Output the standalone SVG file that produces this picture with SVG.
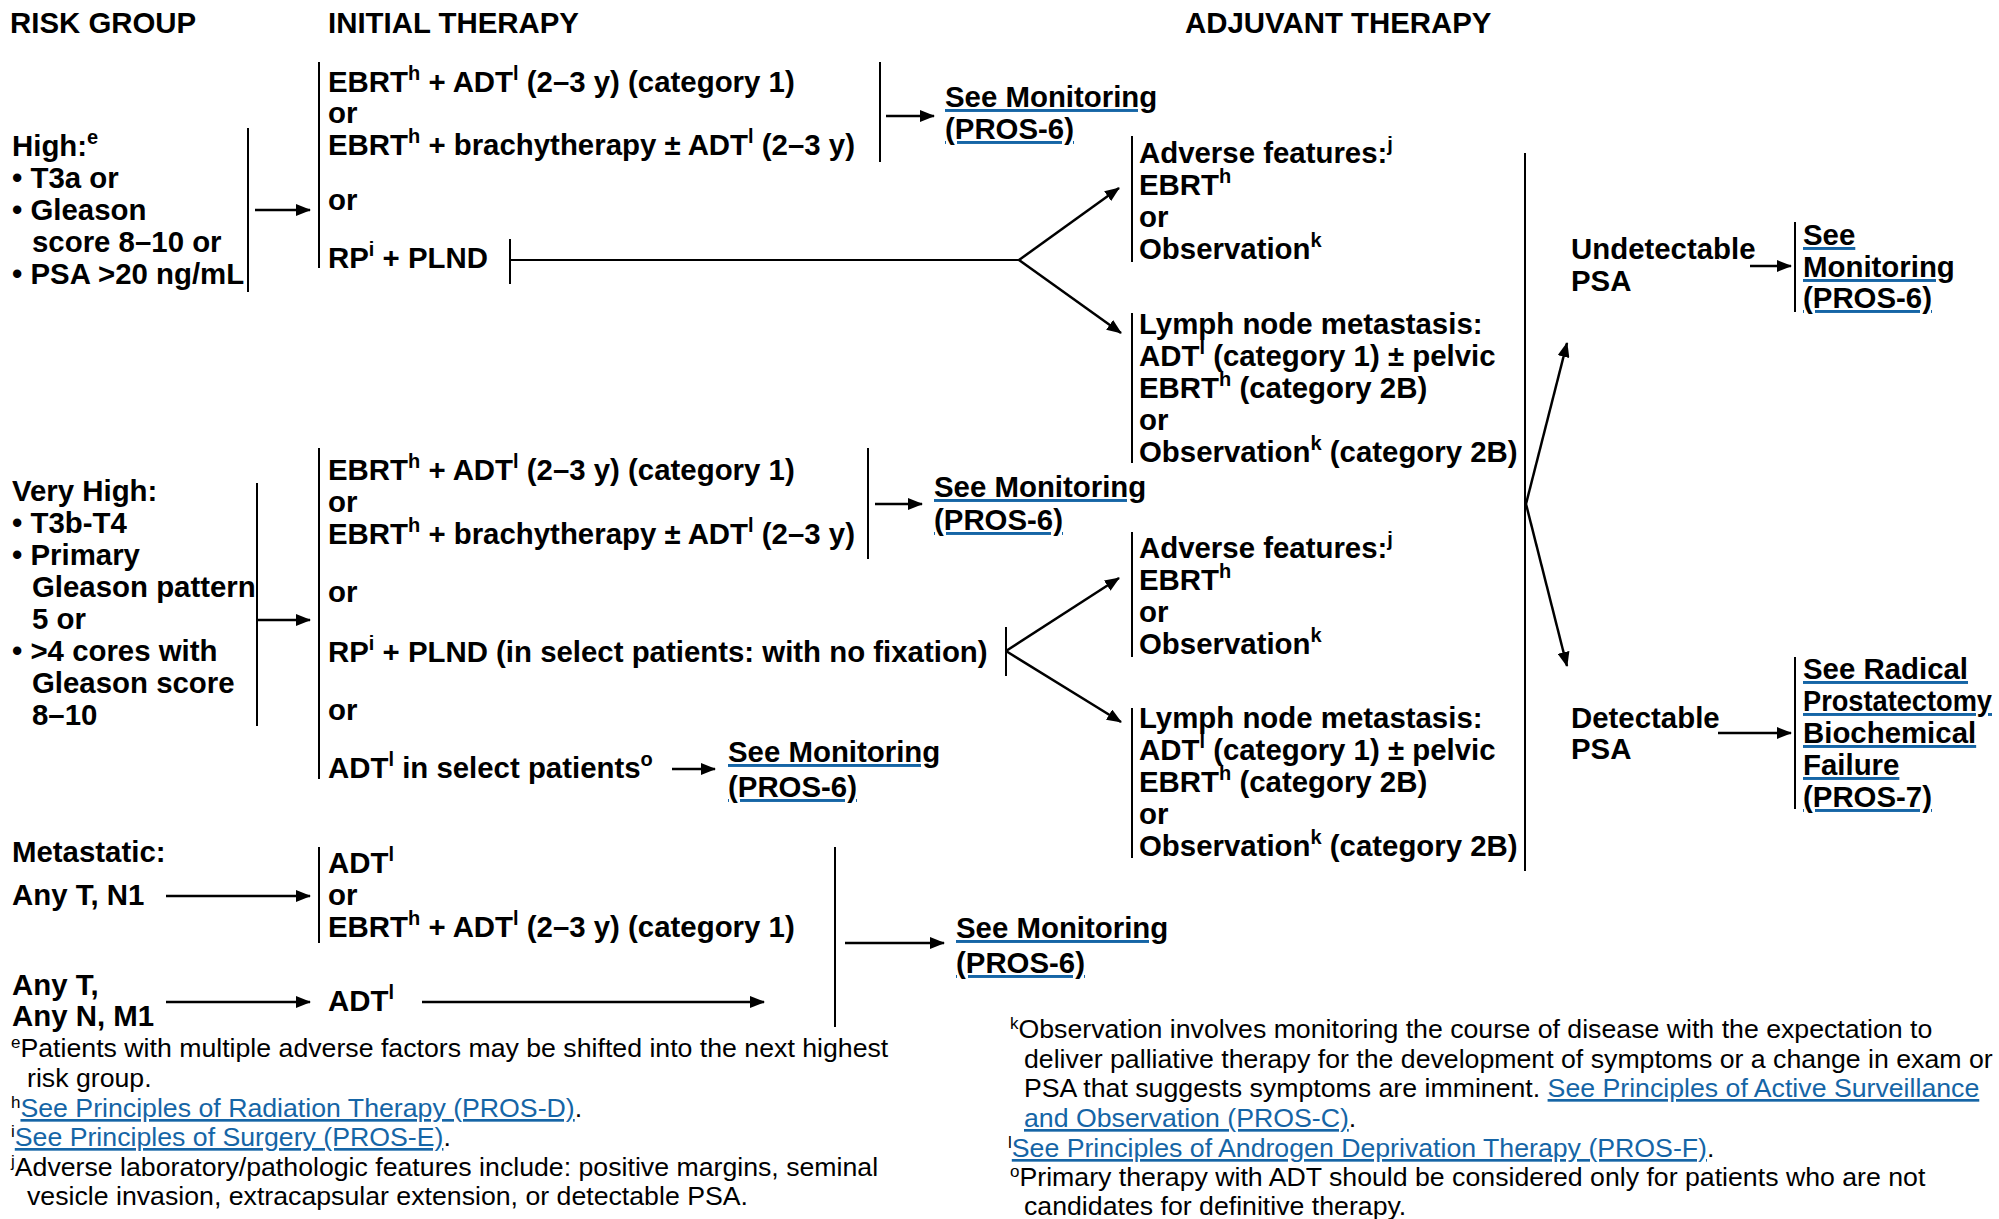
<svg xmlns="http://www.w3.org/2000/svg" width="1999" height="1219" viewBox="0 0 1999 1219">
  <style>
    text { font-family: "Liberation Sans", Arial, Helvetica, sans-serif; fill: #000; }
    .b { font-weight: bold; font-size: 29.4px; }
    .fn { font-weight: normal; font-size: 26.7px; }
    .sp { font-size: 20px; }
    .fsp { font-size: 17px; }
    .lk { fill: #1565a6; text-decoration: underline; }
    .ln { stroke: #000; stroke-width: 2; fill: none; }
    .ar { stroke: #000; stroke-width: 2.5; fill: none; marker-end: url(#ah); }
  </style>
  <defs>
    <marker id="ah" markerUnits="userSpaceOnUse" markerWidth="15" markerHeight="12" refX="14" refY="6" orient="auto">
      <path d="M0,0 L15,6 L0,12 z" fill="#000"/>
    </marker>
  </defs>
  <rect width="1999" height="1219" fill="#fff"/>

  <!-- column headings -->
  <g id="headings" class="b">
    <text x="10" y="33">RISK GROUP</text>
    <text x="328" y="33">INITIAL THERAPY</text>
    <text x="1185" y="33">ADJUVANT THERAPY</text>
  </g>

  <!-- High risk group -->
  <g id="risk-high" class="b">
    <text x="12" y="156">High:<tspan class="sp" dy="-12">e</tspan></text>
    <text x="12" y="188">• T3a or</text>
    <text x="12" y="220">• Gleason</text>
    <text x="32" y="252">score 8–10 or</text>
    <text x="12" y="284">• PSA &gt;20 ng/mL</text>
    <line class="ln" x1="248" y1="128" x2="248" y2="292"/>
  </g>

  <g id="initial-high" class="b">
    <line class="ln" x1="319" y1="62" x2="319" y2="268"/>
    <text x="328" y="92">EBRT<tspan class="sp" dy="-12">h</tspan><tspan dy="12"> + ADT</tspan><tspan class="sp" dy="-12">l</tspan><tspan dy="12"> (2–3 y) (category 1)</tspan></text>
    <text x="328" y="123">or</text>
    <text x="328" y="155">EBRT<tspan class="sp" dy="-12">h</tspan><tspan dy="12"> + brachytherapy ± ADT</tspan><tspan class="sp" dy="-12">l</tspan><tspan dy="12"> (2–3 y)</tspan></text>
    <line class="ln" x1="880" y1="62" x2="880" y2="162"/>
    <text x="328" y="210">or</text>
    <text x="328" y="268">RP<tspan class="sp" dy="-12">i</tspan><tspan dy="12"> + PLND</tspan></text>
    <line class="ln" x1="510" y1="239" x2="510" y2="284"/>
  </g>

  <g id="monitor-high" class="b lk">
    <text x="945" y="107">See Monitoring</text>
    <text x="945" y="139">(PROS-6)</text>
  </g>

  <g id="adverse-high" class="b">
    <line class="ln" x1="1132" y1="136" x2="1132" y2="262"/>
    <text x="1139" y="163">Adverse features:<tspan class="sp" dy="-12">j</tspan></text>
    <text x="1139" y="195">EBRT<tspan class="sp" dy="-12">h</tspan></text>
    <text x="1139" y="227">or</text>
    <text x="1139" y="259">Observation<tspan class="sp" dy="-12">k</tspan></text>
  </g>

  <g id="lymph-high" class="b">
    <line class="ln" x1="1132" y1="313" x2="1132" y2="463"/>
    <text x="1139" y="334">Lymph node metastasis:</text>
    <text x="1139" y="366">ADT<tspan class="sp" dy="-12">l</tspan><tspan dy="12"> (category 1) ± pelvic</tspan></text>
    <text x="1139" y="398">EBRT<tspan class="sp" dy="-12">h</tspan><tspan dy="12"> (category 2B)</tspan></text>
    <text x="1139" y="430">or</text>
    <text x="1139" y="462">Observation<tspan class="sp" dy="-12">k</tspan><tspan dy="12"> (category 2B)</tspan></text>
  </g>

  <!-- Very high risk group -->
  <g id="risk-very-high" class="b">
    <text x="12" y="501">Very High:</text>
    <text x="12" y="533">• T3b-T4</text>
    <text x="12" y="565">• Primary</text>
    <text x="32" y="597">Gleason pattern</text>
    <text x="32" y="629">5 or</text>
    <text x="12" y="661">• &gt;4 cores with</text>
    <text x="32" y="693">Gleason score</text>
    <text x="32" y="725">8–10</text>
    <line class="ln" x1="257" y1="483" x2="257" y2="726"/>
  </g>

  <g id="initial-very-high" class="b">
    <line class="ln" x1="319" y1="448" x2="319" y2="779"/>
    <text x="328" y="480">EBRT<tspan class="sp" dy="-12">h</tspan><tspan dy="12"> + ADT</tspan><tspan class="sp" dy="-12">l</tspan><tspan dy="12"> (2–3 y) (category 1)</tspan></text>
    <text x="328" y="512">or</text>
    <text x="328" y="544">EBRT<tspan class="sp" dy="-12">h</tspan><tspan dy="12"> + brachytherapy ± ADT</tspan><tspan class="sp" dy="-12">l</tspan><tspan dy="12"> (2–3 y)</tspan></text>
    <line class="ln" x1="868" y1="448" x2="868" y2="559"/>
    <text x="328" y="602">or</text>
    <text x="328" y="662">RP<tspan class="sp" dy="-12">i</tspan><tspan dy="12"> + PLND (in select patients: with no fixation)</tspan></text>
    <line class="ln" x1="1006" y1="627" x2="1006" y2="676"/>
    <text x="328" y="720">or</text>
    <text x="328" y="778">ADT<tspan class="sp" dy="-12">l</tspan><tspan dy="12"> in select patients</tspan><tspan class="sp" dy="-12">o</tspan></text>
  </g>

  <g id="monitor-very-high" class="b lk">
    <text x="934" y="497">See Monitoring</text>
    <text x="934" y="530">(PROS-6)</text>
  </g>

  <g id="monitor-adt-select" class="b lk">
    <text x="728" y="762">See Monitoring</text>
    <text x="728" y="797">(PROS-6)</text>
  </g>

  <g id="adverse-very-high" class="b">
    <line class="ln" x1="1132" y1="532" x2="1132" y2="657"/>
    <text x="1139" y="558">Adverse features:<tspan class="sp" dy="-12">j</tspan></text>
    <text x="1139" y="590">EBRT<tspan class="sp" dy="-12">h</tspan></text>
    <text x="1139" y="622">or</text>
    <text x="1139" y="654">Observation<tspan class="sp" dy="-12">k</tspan></text>
  </g>

  <g id="lymph-very-high" class="b">
    <line class="ln" x1="1132" y1="708" x2="1132" y2="858"/>
    <text x="1139" y="728">Lymph node metastasis:</text>
    <text x="1139" y="760">ADT<tspan class="sp" dy="-12">l</tspan><tspan dy="12"> (category 1) ± pelvic</tspan></text>
    <text x="1139" y="792">EBRT<tspan class="sp" dy="-12">h</tspan><tspan dy="12"> (category 2B)</tspan></text>
    <text x="1139" y="824">or</text>
    <text x="1139" y="856">Observation<tspan class="sp" dy="-12">k</tspan><tspan dy="12"> (category 2B)</tspan></text>
  </g>

  <!-- adjuvant outcome -->
  <g id="adjuvant-bar">
    <line class="ln" x1="1525" y1="153" x2="1525" y2="871"/>
  </g>

  <g id="undetectable-psa" class="b">
    <text x="1571" y="259">Undetectable</text>
    <text x="1571" y="291">PSA</text>
  </g>

  <g id="monitor-undetectable" class="b">
    <line class="ln" x1="1795" y1="222" x2="1795" y2="312"/>
    <g class="lk">
      <text x="1803" y="245">See</text>
      <text x="1803" y="277">Monitoring</text>
      <text x="1803" y="308">(PROS-6)</text>
    </g>
  </g>

  <g id="detectable-psa" class="b">
    <text x="1571" y="728">Detectable</text>
    <text x="1571" y="759">PSA</text>
  </g>

  <g id="biochemical-failure" class="b">
    <line class="ln" x1="1795" y1="657" x2="1795" y2="809"/>
    <g class="lk">
      <text x="1803" y="679">See Radical</text>
      <text x="1803" y="711" textLength="189" lengthAdjust="spacingAndGlyphs">Prostatectomy</text>
      <text x="1803" y="743">Biochemical</text>
      <text x="1803" y="775">Failure</text>
      <text x="1803" y="807">(PROS-7)</text>
    </g>
  </g>

  <!-- Metastatic group -->
  <g id="risk-metastatic" class="b">
    <text x="12" y="862">Metastatic:</text>
    <text x="12" y="905">Any T, N1</text>
    <text x="12" y="995">Any T,</text>
    <text x="12" y="1026">Any N, M1</text>
  </g>

  <g id="initial-metastatic" class="b">
    <line class="ln" x1="319" y1="847" x2="319" y2="943"/>
    <text x="328" y="873">ADT<tspan class="sp" dy="-12">l</tspan></text>
    <text x="328" y="905">or</text>
    <text x="328" y="937">EBRT<tspan class="sp" dy="-12">h</tspan><tspan dy="12"> + ADT</tspan><tspan class="sp" dy="-12">l</tspan><tspan dy="12"> (2–3 y) (category 1)</tspan></text>
    <text x="328" y="1011">ADT<tspan class="sp" dy="-12">l</tspan></text>
    <line class="ln" x1="835" y1="847" x2="835" y2="1027"/>
  </g>

  <g id="monitor-metastatic" class="b lk">
    <text x="956" y="938">See Monitoring</text>
    <text x="956" y="973">(PROS-6)</text>
  </g>

  <!-- connectors -->
  <g id="connectors">
    <line class="ar" x1="255" y1="210" x2="310" y2="210"/>
    <line class="ar" x1="886" y1="116" x2="934" y2="116"/>
    <polyline class="ln" points="510,260 1019,260"/>
    <line class="ar" x1="1019" y1="260" x2="1119" y2="188"/>
    <line class="ar" x1="1019" y1="260" x2="1121" y2="333"/>

    <line class="ar" x1="257" y1="620" x2="310" y2="620"/>
    <line class="ar" x1="875" y1="504" x2="922" y2="504"/>
    <line class="ar" x1="1006" y1="651" x2="1119" y2="578"/>
    <line class="ar" x1="1006" y1="651" x2="1121" y2="722"/>
    <line class="ar" x1="672" y1="769" x2="715" y2="769"/>

    <line class="ar" x1="1526" y1="504" x2="1567" y2="343"/>
    <line class="ar" x1="1526" y1="504" x2="1567" y2="666"/>
    <line class="ar" x1="1750" y1="266" x2="1791" y2="266"/>
    <line class="ar" x1="1718" y1="733" x2="1791" y2="733"/>

    <line class="ar" x1="166" y1="896" x2="310" y2="896"/>
    <line class="ar" x1="166" y1="1002" x2="310" y2="1002"/>
    <line class="ar" x1="422" y1="1002" x2="764" y2="1002"/>
    <line class="ar" x1="845" y1="943" x2="944" y2="943"/>
  </g>

  <!-- footnotes -->
  <g id="footnotes-left" class="fn">
    <text x="11" y="1057"><tspan class="fsp" dy="-9">e</tspan><tspan dy="9">Patients with multiple adverse factors may be shifted into the next highest</tspan></text>
    <text x="27" y="1087">risk group.</text>
    <text x="11" y="1117"><tspan class="fsp" dy="-9">h</tspan><tspan dy="9" class="lk">See Principles of Radiation Therapy (PROS-D)</tspan>.</text>
    <text x="11" y="1146"><tspan class="fsp" dy="-9">i</tspan><tspan dy="9" class="lk">See Principles of Surgery (PROS-E)</tspan>.</text>
    <text x="11" y="1176"><tspan class="fsp" dy="-9">j</tspan><tspan dy="9">Adverse laboratory/pathologic features include: positive margins, seminal</tspan></text>
    <text x="27" y="1205">vesicle invasion, extracapsular extension, or detectable PSA.</text>
  </g>

  <g id="footnotes-right" class="fn">
    <text x="1010" y="1038"><tspan class="fsp" dy="-9">k</tspan><tspan dy="9">Observation involves monitoring the course of disease with the expectation to</tspan></text>
    <text x="1024" y="1068">deliver palliative therapy for the development of symptoms or a change in exam or</text>
    <text x="1024" y="1097">PSA that suggests symptoms are imminent. <tspan class="lk">See Principles of Active Surveillance</tspan></text>
    <text x="1024" y="1127"><tspan class="lk">and Observation (PROS-C)</tspan>.</text>
    <text x="1008" y="1157"><tspan class="fsp" dy="-9">l</tspan><tspan dy="9" class="lk">See Principles of Androgen Deprivation Therapy (PROS-F)</tspan>.</text>
    <text x="1010" y="1186"><tspan class="fsp" dy="-9">o</tspan><tspan dy="9">Primary therapy with ADT should be considered only for patients who are not</tspan></text>
    <text x="1024" y="1215">candidates for definitive therapy.</text>
  </g>
</svg>
